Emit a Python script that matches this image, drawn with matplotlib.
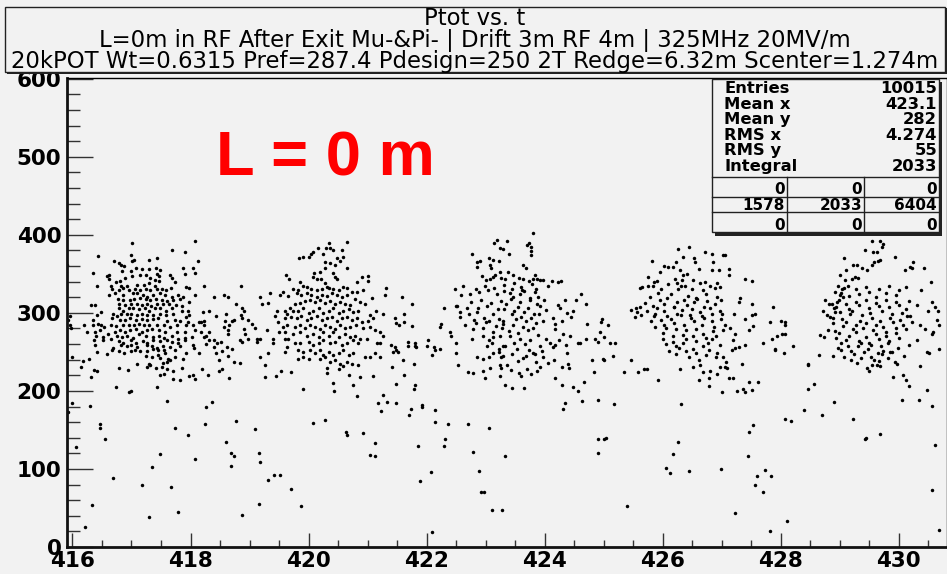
import matplotlib
matplotlib.use("Agg")
import matplotlib.pyplot as plt
from matplotlib.patches import Rectangle
from matplotlib.lines import Line2D
from matplotlib.ticker import MultipleLocator, FormatStrFormatter

# ---------------------------------------------------------------------------
# Ptot [MeV/c] vs t [ns] for particles crossing the plane, grouped by time window
# ---------------------------------------------------------------------------
win_416_419 = [
    (417.01, 389), (418.08, 392), (417.69, 381), (417.91, 378), (416.44, 373), (417.00, 374), (417.05, 368),
    (417.01, 366), (417.29, 368), (417.43, 370), (418.12, 366), (416.71, 366), (416.78, 364), (416.82, 362),
    (416.88, 360), (415.91, 362), (417.08, 357), (417.18, 356), (417.29, 356), (417.42, 357), (417.49, 355),
    (417.87, 357), (418.04, 357), (416.35, 351), (416.84, 354), (416.99, 354), (417.91, 350), (418.08, 351),
    (416.58, 347), (416.62, 348), (416.62, 343), (416.89, 345), (417.01, 347), (417.15, 348), (417.25, 348),
    (417.31, 345), (417.43, 350), (417.46, 347), (417.65, 349), (417.69, 345), (417.39, 342), (417.47, 341),
    (416.81, 341), (416.74, 340), (416.42, 334), (416.66, 335), (416.67, 330), (416.82, 335), (416.86, 332),
    (416.92, 335), (417.09, 336), (417.21, 336), (417.29, 338), (417.39, 335), (417.74, 340), (417.93, 333),
    (417.98, 332), (418.23, 334), (418.86, 335), (416.78, 329), (416.95, 329), (417.06, 331), (417.14, 329),
    (417.25, 331), (417.31, 329), (417.43, 330), (417.51, 331), (417.58, 329), (417.67, 332), (416.62, 323),
    (416.72, 325), (416.86, 323), (417.02, 325), (417.10, 326), (417.19, 323), (417.27, 321), (417.37, 323),
    (417.48, 325), (417.57, 323), (417.68, 321), (417.79, 323), (417.88, 321), (418.08, 323), (418.39, 320),
    (418.56, 323), (418.63, 321), (419.18, 320), (419.35, 326), (419.52, 323), (419.57, 327), (416.77, 318),
    (416.85, 317), (416.97, 316), (417.04, 318), (417.14, 319), (417.25, 318), (417.31, 316), (417.42, 318),
    (417.51, 316), (417.60, 315), (417.71, 316), (417.82, 318), (417.98, 314), (418.77, 312), (416.31, 310),
    (416.38, 310), (416.79, 312), (416.89, 310), (416.99, 311), (417.09, 312), (417.17, 310), (417.26, 311),
    (417.33, 309), (417.43, 311), (417.54, 311), (417.64, 311), (417.75, 310), (417.86, 309), (419.21, 311),
    (419.31, 313), (416.78, 306), (416.86, 303), (416.95, 306), (417.03, 306), (417.12, 305), (417.23, 306),
    (417.30, 303), (417.39, 306), (417.48, 306), (417.58, 303), (417.68, 306), (417.85, 302), (417.96, 303),
    (418.22, 301), (418.31, 302), (418.88, 306), (418.91, 302), (419.47, 303), (416.49, 301), (416.41, 297),
    (416.69, 298), (416.76, 296), (416.83, 299), (416.92, 298), (417.00, 299), (417.09, 297), (417.17, 299),
    (417.27, 297), (417.37, 297), (417.48, 298), (417.58, 297), (417.71, 299), (417.92, 295), (417.98, 297),
    (418.43, 296), (418.60, 299), (418.86, 297), (418.88, 294), (419.43, 296), (415.95, 296), (415.93, 291),
    (416.35, 291), (416.67, 293), (416.80, 291), (416.89, 291), (416.97, 293), (417.08, 291), (417.17, 292),
    (417.27, 291), (417.36, 292), (417.45, 293), (417.60, 289), (417.74, 291), (417.83, 289), (417.96, 288),
    (418.14, 288), (418.23, 289), (418.70, 289), (418.73, 291), (418.58, 289), (418.98, 291), (419.60, 293),
    (416.19, 284), (416.34, 284), (416.44, 286), (416.49, 284), (416.53, 282), (416.65, 285), (416.74, 283),
    (416.85, 284), (416.95, 285), (417.04, 284), (417.13, 286), (417.21, 285), (417.30, 284), (417.43, 284),
    (417.55, 285), (417.65, 282), (417.77, 284), (417.92, 284), (418.04, 285), (418.23, 285), (418.18, 288),
    (418.57, 282), (418.65, 284), (419.04, 286), (419.10, 280), (419.48, 288), (419.50, 276), (415.96, 284),
    (415.97, 280), (416.24, 275), (416.38, 276), (416.47, 278), (416.61, 273), (416.72, 276), (416.80, 278),
    (416.89, 276), (416.97, 278), (417.08, 279), (417.17, 276), (417.27, 278), (417.34, 279), (417.46, 278),
    (417.57, 276), (417.77, 275), (417.91, 276), (418.08, 278), (418.18, 275), (418.32, 276), (418.63, 278),
    (418.90, 279), (418.93, 273), (419.30, 278), (419.56, 282), (416.40, 271), (416.51, 269), (416.66, 267),
    (416.75, 270), (416.84, 269), (416.92, 271), (417.02, 268), (417.13, 273), (417.25, 271), (417.36, 269),
    (417.47, 271), (417.55, 268), (417.69, 271), (417.79, 267), (417.91, 268), (418.03, 269), (418.23, 269),
    (418.27, 271), (418.39, 265), (418.64, 273), (418.97, 267), (419.12, 267), (419.18, 267), (419.39, 267),
    (419.60, 267), (416.37, 265), (416.52, 265), (416.78, 264), (416.86, 262), (416.99, 265), (417.08, 262),
    (417.20, 264), (417.27, 262), (417.37, 265), (417.48, 264), (417.60, 265), (417.68, 263), (417.79, 261),
    (417.90, 265), (418.32, 265), (418.45, 262), (418.52, 263), (418.84, 265), (418.87, 263), (419.13, 263),
    (416.38, 259), (416.68, 255), (416.82, 259), (416.92, 258), (417.00, 259), (417.09, 256), (417.26, 259),
    (417.34, 258), (417.44, 255), (417.54, 257), (417.65, 256), (417.82, 258), (418.04, 259), (418.06, 255),
    (418.26, 260), (418.40, 256), (418.61, 256), (418.70, 254), (419.40, 261), (416.67, 252), (416.78, 251),
    (416.88, 249), (416.99, 251), (417.06, 253), (417.14, 251), (417.26, 251), (417.36, 254), (417.45, 252),
    (417.55, 252), (417.74, 252), (417.93, 249), (418.14, 249), (418.44, 249), (418.54, 251), (416.42, 250),
    (416.58, 247), (419.32, 248), (415.99, 244), (416.17, 238), (416.28, 241), (417.10, 235), (417.24, 245),
    (417.35, 244), (417.45, 246), (417.48, 242), (417.57, 248), (417.62, 241), (417.65, 239), (417.60, 237),
    (417.74, 244), (417.87, 241), (418.48, 239), (418.63, 245), (418.73, 237), (418.84, 236), (419.17, 243),
    (417.29, 235), (417.53, 236), (416.14, 231), (416.37, 227), (416.41, 226), (416.78, 229), (416.94, 227),
    (417.26, 231), (417.31, 233), (417.42, 229), (417.51, 231), (417.61, 228), (417.71, 226), (417.86, 230),
    (418.19, 228), (418.48, 226), (418.53, 228), (419.27, 233), (419.53, 226), (417.55, 222), (416.32, 218),
    (417.49, 220), (417.71, 215), (417.83, 214), (417.97, 219), (418.04, 221), (418.07, 215), (418.29, 220),
    (418.66, 217), (419.26, 218), (419.45, 219), (416.73, 205), (416.96, 199), (416.99, 200), (417.43, 205),
    (417.60, 187), (418.36, 186), (415.99, 184),
]

win_419_423 = [
    (420.34, 390), (420.66, 391), (420.16, 383), (420.29, 383), (420.36, 383), (420.42, 380), (420.57, 381),
    (420.08, 378), (420.05, 376), (419.84, 370), (419.91, 371), (420.01, 371), (420.25, 376), (420.48, 370),
    (420.59, 371), (420.54, 367), (420.28, 365), (420.36, 364), (420.45, 362), (420.65, 357), (420.28, 357),
    (420.10, 351), (420.19, 353), (420.41, 351), (419.62, 349), (419.67, 344), (420.08, 346), (420.14, 344),
    (420.21, 343), (420.45, 346), (420.49, 343), (420.90, 346), (421.00, 347), (421.01, 341), (420.82, 339),
    (420.28, 338), (420.31, 333), (420.35, 332), (419.86, 339), (419.91, 335), (419.97, 333), (419.74, 331),
    (419.83, 329), (420.05, 330), (420.14, 329), (420.22, 331), (420.42, 330), (420.51, 329), (420.59, 333),
    (420.65, 332), (421.31, 332), (421.30, 323), (420.73, 327), (420.82, 327), (420.93, 329), (419.66, 322),
    (419.80, 325), (419.88, 323), (419.97, 325), (420.05, 323), (420.14, 321), (420.22, 323), (420.31, 322),
    (420.39, 325), (420.48, 323), (420.56, 321), (420.65, 323), (421.08, 319), (421.59, 321), (420.79, 318),
    (420.87, 314), (419.77, 311), (419.86, 313), (419.94, 315), (420.03, 316), (420.11, 314), (420.20, 316),
    (420.28, 313), (420.36, 315), (420.45, 311), (420.53, 314), (420.62, 312), (420.70, 310), (420.95, 311),
    (421.76, 311), (419.69, 306), (419.60, 303), (419.63, 298), (419.74, 303), (419.83, 302), (419.91, 306),
    (420.00, 300), (420.08, 303), (420.17, 306), (420.25, 300), (420.34, 303), (420.42, 306), (420.51, 300),
    (420.59, 303), (420.68, 305), (420.76, 301), (420.84, 303), (421.14, 302), (421.27, 299), (421.04, 297),
    (421.62, 299), (422.29, 306), (422.51, 309), (421.47, 293), (421.49, 287), (421.54, 285), (421.62, 288),
    (421.75, 283), (422.25, 286), (422.23, 282), (419.71, 295), (419.80, 293), (419.88, 296), (419.97, 291),
    (420.05, 294), (420.14, 296), (420.22, 291), (420.31, 293), (420.39, 295), (420.48, 289), (420.56, 293),
    (420.65, 295), (420.73, 291), (420.82, 293), (420.90, 288), (421.00, 289), (421.09, 293), (419.63, 284),
    (419.77, 282), (419.86, 284), (419.94, 280), (420.03, 284), (420.11, 282), (420.20, 279), (420.28, 284),
    (420.36, 282), (420.45, 279), (420.53, 284), (420.62, 280), (420.70, 282), (420.80, 284), (420.93, 280),
    (421.04, 282), (421.13, 278), (421.21, 276), (421.27, 271), (419.60, 275), (419.74, 273), (419.86, 276),
    (419.97, 271), (420.08, 273), (420.17, 269), (420.25, 276), (420.34, 271), (420.42, 275), (420.52, 269),
    (420.62, 273), (420.70, 269), (420.79, 271), (420.87, 267), (419.66, 267), (419.77, 262), (419.86, 261),
    (420.00, 263), (420.08, 259), (420.17, 262), (420.25, 265), (420.36, 261), (420.45, 263), (420.56, 259),
    (420.65, 262), (420.76, 265), (420.84, 261), (420.99, 267), (421.16, 261), (421.21, 262), (421.40, 259),
    (421.47, 256), (421.49, 253), (421.52, 250), (421.44, 250), (421.69, 263), (421.69, 258), (421.80, 262),
    (421.80, 258), (421.82, 256), (422.02, 265), (422.00, 258), (422.12, 256), (422.14, 253), (422.09, 246),
    (422.23, 254), (422.50, 262), (422.50, 248), (422.54, 233), (419.63, 256), (419.60, 250), (419.71, 224),
    (419.83, 252), (419.91, 250), (420.03, 253), (420.11, 248), (420.20, 252), (420.25, 246), (420.34, 250),
    (420.42, 246), (420.51, 248), (420.59, 252), (420.68, 246), (420.76, 248), (420.96, 244), (421.04, 244),
    (421.12, 249), (421.21, 244), (421.60, 239), (421.79, 235), (419.83, 241), (419.91, 244), (420.00, 241),
    (420.20, 241), (420.28, 244), (420.36, 237), (420.45, 239), (420.53, 235), (420.65, 237), (420.73, 235),
    (420.83, 233), (420.31, 230), (420.51, 228), (420.59, 232), (420.31, 223), (420.68, 220), (420.87, 218),
    (421.09, 219), (421.41, 231), (421.61, 220), (420.42, 210), (420.44, 200), (420.76, 208), (420.82, 194),
    (419.90, 203), (421.49, 209), (421.81, 208), (421.79, 203), (421.26, 195), (421.17, 184), (421.33, 186),
    (421.49, 185),
    (422.77, 376), (422.85, 365), (422.91, 366), (422.85, 359), (423.05, 370), (423.13, 368), (423.08, 362),
    (423.09, 358), (423.19, 394), (423.15, 390), (423.25, 383), (423.29, 382), (423.23, 366), (423.25, 353),
    (423.16, 348), (423.26, 345), (423.12, 346), (422.94, 347), (423.00, 342), (423.08, 344), (422.48, 331),
    (422.61, 334), (422.59, 323), (422.74, 324), (422.83, 331), (422.89, 327), (422.99, 335), (423.04, 329),
    (423.15, 332), (423.20, 324), (423.31, 328), (422.50, 309), (422.57, 301), (422.56, 295), (422.68, 306),
    (422.75, 314), (422.87, 306), (422.92, 316), (423.03, 309), (423.09, 313), (423.21, 305), (423.26, 315),
    (422.72, 299), (422.80, 291), (422.86, 301), (422.97, 294), (423.06, 289), (423.12, 299), (423.23, 292),
    (423.29, 286), (422.66, 284), (422.78, 279), (422.84, 287), (422.95, 281), (423.01, 288), (423.12, 276),
    (423.18, 283), (423.28, 280), (422.40, 276), (422.41, 271), (422.77, 267), (422.95, 271), (423.05, 265),
    (423.13, 269), (423.25, 271), (423.02, 258), (423.11, 261), (423.22, 254), (423.29, 258), (422.85, 244),
    (422.96, 241), (423.05, 244), (423.13, 248), (423.22, 250), (423.30, 245), (422.70, 224), (422.79, 223),
    (422.96, 226), (423.08, 229), (423.25, 233), (423.27, 229), (422.99, 217), (423.25, 219), (421.93, 182),
]

win_423_427 = [
    (423.81, 403), (423.37, 392), (423.70, 387), (423.73, 389), (423.77, 385), (423.77, 379), (423.77, 374),
    (423.40, 376), (423.63, 362), (423.69, 357), (423.38, 353), (423.33, 344), (423.47, 349), (423.56, 345),
    (423.64, 343), (423.73, 341), (423.81, 344), (423.84, 349), (423.88, 344), (423.92, 342), (423.98, 342),
    (424.13, 341), (424.23, 339), (424.28, 341),
    (423.31, 336), (423.45, 330), (423.49, 338), (423.60, 333), (423.66, 328), (423.79, 337), (423.85, 331),
    (424.06, 334), (423.41, 326), (423.46, 320), (423.58, 324), (423.62, 329), (423.75, 319), (423.83, 327),
    (423.89, 321), (423.99, 316), (424.35, 317), (424.62, 324), (424.53, 317), (424.70, 312), (424.23, 310),
    (424.26, 306), (424.38, 300), (424.49, 303), (423.35, 311), (423.43, 318), (423.55, 308), (423.59, 314),
    (423.72, 306), (423.76, 316), (423.88, 312), (423.93, 309), (424.02, 304), (423.90, 299), (423.32, 305),
    (423.44, 298), (423.48, 302), (423.60, 295), (423.65, 301), (423.77, 293), (423.82, 298), (424.15, 293),
    (424.18, 286), (424.30, 289), (424.44, 295), (424.72, 286), (424.96, 288), (425.08, 285), (424.97, 292),
    (423.29, 289), (423.46, 284), (423.51, 292), (423.63, 282), (423.68, 289), (423.80, 280), (423.85, 287),
    (423.97, 290), (424.18, 279), (424.32, 273), (424.43, 271), (424.60, 261), (424.56, 262), (424.70, 266),
    (424.85, 267), (424.94, 276), (425.01, 269), (424.91, 263), (425.11, 262), (425.20, 261), (423.40, 277),
    (423.42, 270), (423.55, 274), (423.59, 267), (423.72, 278), (423.76, 265), (423.89, 272), (424.03, 266),
    (424.10, 261), (424.25, 265), (424.36, 259), (423.33, 258), (423.49, 262), (423.54, 254), (423.67, 260),
    (423.73, 252), (423.83, 247), (423.92, 257), (423.96, 251), (424.14, 256), (424.18, 259), (423.27, 243),
    (423.45, 247), (423.55, 238), (423.63, 242), (423.68, 245), (423.80, 248), (423.85, 237), (423.97, 243),
    (424.06, 236), (424.16, 240), (424.38, 248), (424.40, 235), (424.42, 229), (424.29, 231), (424.80, 239),
    (424.99, 241), (425.00, 239), (425.16, 245), (423.37, 233), (423.43, 227), (423.56, 223), (423.60, 219),
    (423.71, 228), (423.77, 222), (423.88, 225), (423.93, 231),
    (423.33, 207), (423.44, 204), (423.66, 204), (424.17, 216), (424.29, 208), (424.49, 205), (424.57, 200),
    (424.67, 212), (424.83, 224), (424.35, 184), (424.64, 187), (424.90, 188), (425.17, 183), (425.35, 224),
    (425.46, 239), (425.59, 224), (425.68, 228), (425.73, 228), (425.93, 214), (426.30, 228), (426.31, 183),
    (425.47, 304), (425.55, 306), (425.61, 308), (425.56, 301), (425.53, 295), (425.63, 297), (425.76, 335),
    (425.82, 366), (425.75, 346), (425.65, 333), (425.62, 332), (425.85, 340), (425.90, 341), (425.96, 353),
    (426.03, 360), (426.10, 359), (426.18, 359), (426.22, 365), (426.26, 382), (426.35, 371), (426.45, 384),
    (426.54, 370), (426.55, 365), (426.62, 356), (426.72, 378), (426.83, 376), (426.85, 365), (426.83, 355),
    (426.95, 355), (427.03, 374), (426.30, 355), (426.34, 348), (426.41, 350), (426.21, 344), (426.24, 338),
    (426.33, 342), (426.38, 335), (426.52, 342), (426.64, 338), (426.72, 340), (426.81, 335), (426.92, 338),
    (426.97, 333),
    (425.83, 334), (425.92, 326), (425.97, 331), (426.09, 337), (426.14, 324), (426.26, 330), (426.31, 335),
    (426.43, 322), (426.50, 331), (426.56, 319), (426.68, 329), (426.73, 324), (426.88, 332), (426.93, 320),
    (425.70, 313), (425.78, 320), (425.83, 309), (425.95, 316), (426.03, 311), (426.08, 319), (426.20, 308),
    (426.25, 314), (426.37, 317), (426.42, 310), (426.54, 314), (426.59, 318), (426.71, 307), (426.76, 315),
    (426.88, 312), (426.99, 317), (425.74, 303), (425.87, 298), (425.91, 306), (426.03, 302), (426.08, 296),
    (426.20, 307), (426.25, 299), (426.33, 304), (426.46, 297), (426.50, 305), (426.63, 301), (426.67, 296),
    (426.80, 306), (426.84, 298), (426.97, 303), (427.01, 299), (425.81, 289), (425.85, 296), (425.98, 291),
    (426.02, 285), (426.15, 292), (426.19, 287), (426.32, 297), (426.36, 284), (426.49, 293), (426.53, 289),
    (426.66, 284), (426.70, 293), (426.83, 289), (426.87, 282), (426.99, 292), (425.88, 282), (426.01, 274),
    (426.05, 281), (426.18, 270), (426.22, 279), (426.35, 272), (426.39, 278), (426.51, 270), (426.56, 279),
    (426.68, 273), (426.73, 268), (426.85, 277), (426.90, 270), (427.02, 278), (426.01, 266), (426.05, 260),
    (426.18, 263), (426.22, 257), (426.35, 261), (426.39, 267), (426.51, 254), (426.56, 264), (426.68, 257),
    (426.77, 262), (426.84, 266), (426.97, 259), (426.11, 251), (426.23, 247), (426.28, 255), (426.40, 251),
    (426.45, 243), (426.57, 249), (426.62, 239), (426.74, 246), (426.79, 253), (426.91, 243), (426.93, 249),
    (427.02, 244), (426.52, 231), (426.64, 233), (426.69, 224), (426.78, 217), (426.61, 214), (426.81, 226),
    (426.92, 222), (426.97, 231), (427.00, 199), (426.79, 206),
]

win_427_431 = [
    (427.06, 374), (427.12, 356), (427.12, 348), (427.39, 344), (427.51, 341), (427.31, 319), (427.29, 314),
    (427.51, 311), (427.57, 299), (427.51, 297), (427.40, 292), (427.21, 298), (427.87, 308), (427.82, 288),
    (428.01, 289), (428.08, 288), (428.08, 284), (428.02, 273), (427.94, 271), (427.85, 267), (428.07, 273),
    (427.71, 261), (427.91, 254), (427.91, 252), (428.05, 249), (428.21, 258), (427.54, 283), (427.46, 278),
    (427.23, 273), (427.14, 280), (427.06, 284), (427.20, 265), (427.17, 252), (427.23, 255), (427.29, 256),
    (427.40, 259), (427.07, 237), (427.06, 231), (427.09, 229), (427.12, 217), (427.20, 216), (427.34, 235),
    (427.47, 212), (427.62, 212), (427.51, 201), (427.37, 203), (427.40, 199), (427.26, 200),
    (428.46, 235), (428.47, 233), (428.56, 209), (428.46, 203), (428.65, 246), (428.67, 272), (428.73, 269),
    (428.81, 278), (428.75, 316), (428.72, 302), (428.78, 297), (428.84, 295), (428.90, 306), (428.92, 301),
    (428.87, 311), (428.92, 327), (429.00, 323), (428.95, 314), (429.06, 321), (428.98, 335), (429.04, 331),
    (429.08, 370), (429.01, 348), (429.11, 355), (429.09, 342), (429.15, 335), (429.21, 344), (429.26, 346),
    (429.32, 345), (429.22, 361), (429.29, 362), (429.38, 357), (429.46, 355), (429.55, 361), (429.59, 365),
    (429.57, 378), (429.55, 392), (429.63, 378), (429.68, 392), (429.73, 388), (429.71, 385), (429.65, 366),
    (429.69, 368), (429.43, 380), (429.94, 371), (430.10, 355), (430.20, 359), (430.24, 365), (430.22, 357),
    (430.43, 358), (430.55, 340), (430.38, 329), (430.56, 314), (430.62, 308), (430.66, 303), (430.65, 291),
    (430.68, 284), (430.69, 254), (430.51, 248), (430.56, 273), (430.36, 232), (430.48, 201), (430.35, 188),
    (430.05, 188), (429.91, 218), (430.12, 214), (430.18, 206), (430.07, 220), (428.91, 186), (429.46, 229),
    (429.49, 226), (429.63, 233), (429.68, 232), (429.94, 237), (429.97, 235),
    (429.03, 326), (429.07, 332), (429.16, 322), (429.28, 330), (429.33, 324), (429.45, 333), (429.50, 327),
    (429.62, 321), (429.67, 331), (429.79, 326), (429.84, 334), (429.96, 323), (430.01, 329), (430.13, 333),
    (428.82, 312), (428.94, 307), (428.99, 316), (429.11, 311), (429.16, 305), (429.28, 314), (429.33, 310),
    (429.45, 317), (429.50, 306), (429.62, 313), (429.67, 309), (429.79, 316), (429.84, 307), (429.96, 314),
    (430.01, 310), (430.13, 305), (430.18, 315), (428.88, 294), (429.00, 301), (429.04, 292), (429.17, 298),
    (429.21, 303), (429.34, 290), (429.38, 297), (429.51, 300), (429.55, 294), (429.68, 289), (429.72, 302),
    (429.85, 293), (429.89, 299), (430.02, 291), (430.06, 300), (430.19, 296), (428.89, 287), (428.93, 277),
    (429.06, 283), (429.10, 288), (429.23, 279), (429.27, 285), (429.40, 281), (429.44, 287), (429.57, 278),
    (429.61, 284), (429.74, 282), (429.78, 276), (429.90, 288), (429.95, 280), (430.07, 285), (430.12, 279),
    (428.94, 268), (428.99, 274), (429.11, 265), (429.16, 271), (429.28, 275), (429.33, 264), (429.45, 269),
    (429.50, 262), (429.62, 273), (429.67, 266), (429.79, 270), (429.84, 264), (429.96, 274), (430.01, 268),
    (428.97, 255), (429.02, 261), (429.14, 258), (429.19, 251), (429.31, 257), (429.36, 262), (429.48, 254),
    (429.53, 259), (429.65, 249), (429.70, 257), (429.82, 262), (429.86, 250), (429.99, 255), (430.18, 259),
    (428.88, 245), (429.03, 252), (429.07, 243), (429.20, 239), (429.24, 247), (429.37, 242), (429.41, 250),
    (429.54, 244), (429.58, 240), (429.71, 247), (429.82, 242), (429.89, 250), (430.09, 245), (430.31, 265),
    (430.48, 250), (429.29, 236), (429.55, 233), (429.66, 238), (429.74, 251), (430.14, 296), (430.22, 288),
    (430.31, 310), (430.36, 284), (430.45, 279), (430.59, 275), (430.49, 302),
]

# low-momentum tail below ~180 MeV/c
win_low = [
    (415.93, 173), (416.29, 181), (418.27, 180), (416.47, 158), (416.46, 152), (416.06, 128), (416.55, 138),
    (417.74, 153), (417.96, 144), (418.25, 157), (418.07, 113), (417.49, 119), (417.34, 103), (416.69, 88),
    (417.18, 80), (417.67, 77), (416.33, 54), (417.30, 38), (417.78, 45), (416.21, 25), (418.60, 135),
    (418.77, 161), (418.69, 121), (418.74, 116), (418.69, 104), (419.09, 151), (419.16, 121), (419.17, 109),
    (418.87, 41), (419.16, 55), (419.31, 86), (419.42, 92), (419.51, 92), (419.71, 74), (419.87, 53),
    (420.08, 159), (420.28, 163), (420.64, 147), (420.66, 144), (420.92, 146), (421.13, 133), (421.04, 118),
    (421.13, 117), (421.22, 174), (421.71, 169), (421.74, 177), (421.93, 180), (422.15, 175), (422.14, 160),
    (422.36, 157), (421.86, 129), (422.30, 129), (422.32, 138), (422.07, 96), (421.89, 85), (422.10, 19),
    (422.71, 157), (422.78, 122), (422.89, 98), (422.92, 71), (422.97, 70), (423.05, 153), (423.11, 47),
    (423.28, 48), (423.33, 117), (424.32, 177), (424.91, 138), (425.01, 139), (425.04, 140), (424.90, 121),
    (425.39, 52), (426.06, 101), (426.12, 95), (426.18, 119), (426.26, 135), (426.45, 97), (426.99, 100),
    (427.22, 44), (427.44, 116), (427.46, 147), (427.54, 156), (427.56, 80), (427.60, 91), (427.74, 99),
    (427.83, 91), (427.70, 71), (427.82, 20), (428.07, 164), (428.18, 161), (428.11, 33), (428.39, 175),
    (428.70, 169), (429.22, 164), (429.43, 138), (429.44, 140), (429.69, 145), (430.56, 181), (430.62, 131),
    (430.56, 73), (430.68, 22),
]

x_ticks = [416, 418, 420, 422, 424, 426, 428, 430]
y_ticks = [0, 100, 200, 300, 400, 500, 600]

title_lines = [
    "Ptot vs. t",
    "L=0m in RF After Exit Mu-&Pi- | Drift 3m RF 4m | 325MHz 20MV/m",
    "20kPOT Wt=0.6315 Pref=287.4 Pdesign=250 2T Redge=6.32m Scenter=1.274m",
]
stat_names = ["Entries", "Mean x", "Mean y", "RMS x", "RMS y", "Integral"]
stat_values = ["10015", "423.1", "282", "4.274", "55", "2033"]
overflow_grid = [["0", "0", "0"], ["1578", "2033", "6404"], ["0", "0", "0"]]
annotation = "L = 0 m"

# ---------------------------------------------------------------------------
W, H = 947, 574
BG = "#f2f2f2"
fig = plt.figure(figsize=(W / 100, H / 100), dpi=100, facecolor=BG)


def fx(px):
    return px / W


def fy(py):
    return 1 - py / H


ax = fig.add_axes([fx(67), fy(547), fx(947) - fx(67), fy(78) - fy(547)])
ax.set_facecolor(BG)

for win in (win_416_419, win_419_423, win_423_427, win_427_431, win_low):
    t_vals = [p[0] for p in win]
    p_vals = [p[1] for p in win]
    ax.plot(t_vals, p_vals, "o", ms=2.5, mew=0, color="black", zorder=2)

ax.set_xlim(415.907, 430.82)
ax.set_ylim(0, 601)
ax.set_xticks(x_ticks)
ax.set_yticks(y_ticks)
ax.xaxis.set_minor_locator(MultipleLocator(0.5))
ax.yaxis.set_minor_locator(MultipleLocator(20))
ax.xaxis.set_major_formatter(FormatStrFormatter("%d"))
ax.yaxis.set_major_formatter(FormatStrFormatter("%d"))

ax.tick_params(axis="y", which="major", direction="in", length=18.7, width=1.0,
               color="#333333", pad=4)
ax.tick_params(axis="y", which="minor", direction="in", length=9.4, width=1.0, color="#333333")
ax.tick_params(axis="x", which="major", direction="in", length=10, width=1.0,
               color="#333333", pad=3)
ax.tick_params(axis="x", which="minor", direction="in", length=5, width=1.0, color="#333333")
for lbl in ax.get_xticklabels() + ax.get_yticklabels():
    lbl.set_fontfamily("DejaVu Sans")
    lbl.set_fontweight("bold")
    lbl.set_fontsize(15.5)
    lbl.set_color("black")

for side in ("left", "bottom"):
    ax.spines[side].set_linewidth(2.0)
    ax.spines[side].set_color("#111111")
ax.spines["top"].set_linewidth(1.0)
ax.spines["right"].set_linewidth(1.0)

# --- title pave -------------------------------------------------------------
fig.patches.append(Rectangle((fx(7), fy(74)), fx(940), 66 / H, transform=fig.transFigure,
                             facecolor="#222222", edgecolor="none", zorder=9))
fig.patches.append(Rectangle((fx(5), fy(72)), fx(940), 65 / H, transform=fig.transFigure,
                             facecolor=BG, edgecolor="#222222", linewidth=1.0, zorder=10))

renderer = fig.canvas.get_renderer()
baselines = [25, 46.5, 68]
title_texts = []
for line, base in zip(title_lines, baselines):
    title_texts.append(fig.text(fx(475), fy(base), line, ha="center", va="baseline",
                                family="DejaVu Sans", size=15, color="black", zorder=11))
# size the block so that the longest line spans the pave width
wide = title_texts[2].get_window_extent(renderer).width
scale = 930.0 / wide
for t in title_texts:
    t.set_fontsize(15 * scale)

# --- statistics pave --------------------------------------------------------
bx0, bx1, by0, by1 = 712, 939, 79, 232.5
fig.patches.append(Rectangle((fx(bx0 + 3), fy(by1 + 3)), fx(bx1 - bx0), (by1 - by0) / H,
                             transform=fig.transFigure, facecolor="#222222", edgecolor="none", zorder=9))
fig.patches.append(Rectangle((fx(bx0), fy(by1)), fx(bx1 - bx0), (by1 - by0) / H,
                             transform=fig.transFigure, facecolor=BG, edgecolor="#222222",
                             linewidth=1.0, zorder=10))
stat_font = dict(family="DejaVu Sans", weight="bold", size=11.8, color="black", zorder=11)
for i, (name, val) in enumerate(zip(stat_names, stat_values)):
    base = 93 + 15.6 * i
    fig.text(fx(724), fy(base), name, ha="left", va="baseline", **stat_font)
    fig.text(fx(937), fy(base), val, ha="right", va="baseline", **stat_font)

for yy in (177.3, 196.7, 211.7):
    fig.add_artist(Line2D([fx(bx0), fx(bx1)], [fy(yy), fy(yy)], transform=fig.transFigure,
                          color="#222222", lw=1.0, zorder=11))
for xx in (787, 864):
    fig.add_artist(Line2D([fx(xx), fx(xx)], [fy(177.3), fy(by1)], transform=fig.transFigure,
                          color="#222222", lw=1.0, zorder=11))
grid_font = dict(stat_font, size=11)
cell_right = [785, 862, 937]
row_base = [194.5, 210, 229.5]
for row, base in zip(overflow_grid, row_base):
    for val, xr in zip(row, cell_right):
        fig.text(fx(xr), fy(base), val, ha="right", va="baseline", **grid_font)

# --- red label ----------------------------------------------------------------
fig.text(fx(216), fy(176), annotation, ha="left", va="baseline", color="#ff0000",
         fontsize=45.5, fontweight="bold", family="Liberation Sans", zorder=12)

fig.savefig("out.png", dpi=100, facecolor=BG)
